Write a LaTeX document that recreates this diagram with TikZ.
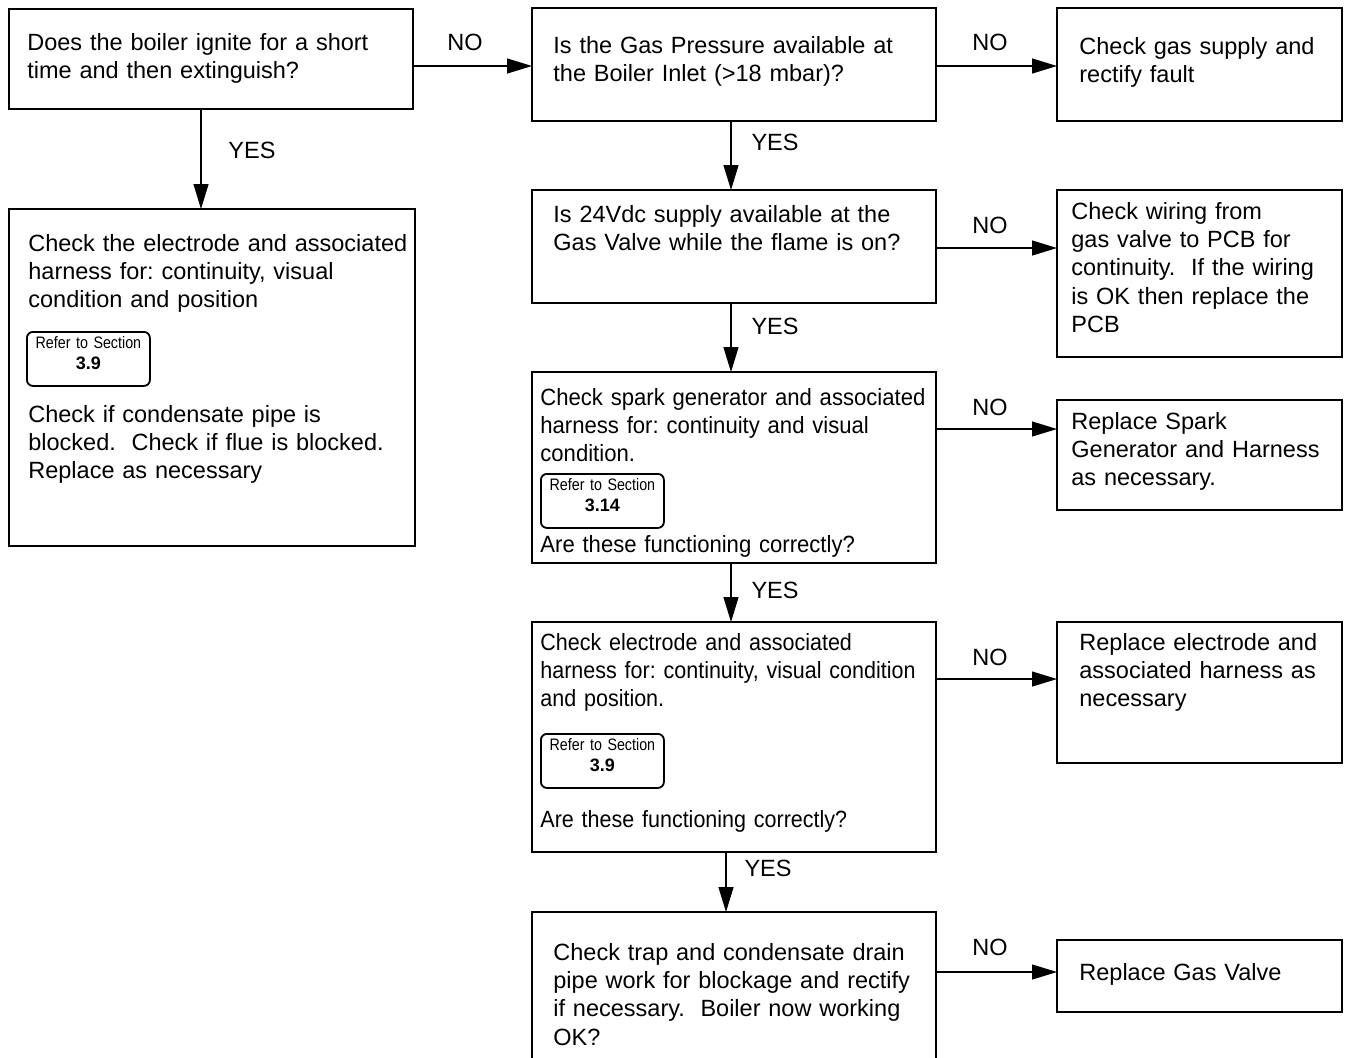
\documentclass[tikz,border=0pt]{standalone}
\usepackage{fontspec}
\setmainfont{Liberation Sans}
\newfontfamily\narrowfont[FakeStretch=0.86]{Liberation Sans}
\newfontfamily\sparkfont[FakeStretch=0.94]{Liberation Sans}
\newfontfamily\electfont[FakeStretch=0.915]{Liberation Sans}
\usetikzlibrary{arrows.meta, positioning}

\newcommand\refnum[1]{{\normalfont\bfseries\fontsize{9}{10.5}\selectfont #1}}

\begin{document}
\frenchspacing
\begin{tikzpicture}[
  x=0.5pt, y=-0.5pt,
  frame/.style={rectangle, draw, line width=0.6pt, inner sep=0pt, outer sep=0pt, anchor=north west},
  txt/.style={anchor=base west, inner sep=0pt, align=left, text width=#1, font=\fontsize{11.75}{14.2}\selectfont},
  txt/.default=215pt,
  sparktxt/.style={txt, font=\sparkfont\fontsize{11.75}{14.2}\selectfont},
  electtxt/.style={txt, font=\electfont\fontsize{11.75}{14.2}\selectfont},
  refer/.style={rectangle, draw, rounded corners=3pt, line width=0.9pt, inner sep=0pt, anchor=north west, text width=61.5pt, align=center, text height=8.5pt, text depth=18.5pt, font=\narrowfont\fontsize{8.3}{10.5}\selectfont},
  lbl/.style={anchor=base, inner sep=0pt, font=\fontsize{11.75}{14.2}\selectfont},
  arrow/.style={-{Triangle[length=12.5pt, width=7.5pt]}, line width=0.6pt}
]

\useasboundingbox (0,0) rectangle (1363,1057);
\clip (0,0) rectangle (1363,1057);

% Frames
\node[frame, minimum width=202pt, minimum height=50pt] (ignite) at (9,9) {};
\node[frame, minimum width=203pt, minimum height=168.5pt] (electrode) at (9,209) {};
\node[frame, minimum width=202pt, minimum height=56.5pt] (gaspress) at (532,8) {};
\node[frame, minimum width=142.5pt, minimum height=56.5pt] (gassupply) at (1057,8) {};
\node[frame, minimum width=202pt, minimum height=56.5pt] (supply) at (532,190) {};
\node[frame, minimum width=142.5pt, minimum height=83.5pt] (wiring) at (1057,190) {};
\node[frame, minimum width=202pt, minimum height=95.5pt] (spark) at (532,372) {};
\node[frame, minimum width=142.5pt, minimum height=55pt] (sparkrep) at (1057,400) {};
\node[frame, minimum width=202pt, minimum height=115pt] (electrode2) at (532,622) {};
\node[frame, minimum width=142.5pt, minimum height=70.5pt] (electrep) at (1057,622) {};
\node[frame, minimum width=202pt, minimum height=90pt] (trap) at (532,912) {};
\node[frame, minimum width=142.5pt, minimum height=36pt] (valverep) at (1057,940) {};

% Texts
\node[txt] (ignite-t) at (27,50) {Does the boiler ignite for a short\\time and then extinguish?};
\node[txt] (electrode-t) at (28,251) {Check the electrode and associated\\harness for: continuity, visual\\condition and position};
\node[refer] (electrode-r) at (26,331) {Refer to Section\\\refnum{3.9}};
\node[txt] (electrode-t2) at (28,422) {Check if condensate pipe is\\blocked.\ \ Check if flue is blocked.\\Replace as necessary};
\node[txt] (gaspress-t) at (553,53) {Is the Gas Pressure available at\\the Boiler Inlet (>18 mbar)?};
\node[txt=135pt] (gassupply-t) at (1079,54) {Check gas supply and\\rectify fault};
\node[txt] (supply-t) at (553,222) {Is 24Vdc supply available at the\\Gas Valve while the flame is on?};
\node[txt=135pt] (wiring-t) at (1071,219) {Check wiring from\\gas valve to PCB for\\continuity.\ \ If the wiring\\is OK then replace the\\PCB};
\node[sparktxt] (spark-t) at (540,405) {Check spark generator and associated\\harness for: continuity and visual\\condition.};
\node[refer] (spark-r) at (540,473) {Refer to Section\\\refnum{3.14}};
\node[sparktxt] (spark-t2) at (540,552) {Are these functioning correctly?};
\node[txt=135pt] (sparkrep-t) at (1071,429) {Replace Spark\\Generator and Harness\\as necessary.};
\node[electtxt] (electrode2-t) at (540,650) {Check electrode and associated\\harness for: continuity, visual condition\\and position.};
\node[refer] (electrode2-r) at (540,733) {Refer to Section\\\refnum{3.9}};
\node[electtxt] (electrode2-t2) at (540,827) {Are these functioning correctly?};
\node[txt=135pt] (electrep-t) at (1079,650) {Replace electrode and\\associated harness as\\necessary};
\node[txt] (trap-t) at (553,960) {Check trap and condensate drain\\pipe work for blockage and rectify\\if necessary.\ \ Boiler now working\\OK?};
\node[txt=135pt] (valverep-t) at (1079,980) {Replace Gas Valve};

% Labels
\node[lbl] (no-ignite) at (465,50) {NO};
\node[lbl] (yes-ignite) at (252,158) {YES};
\node[lbl] (no-gaspress) at (990,50) {NO};
\node[lbl] (yes-gaspress) at (775,150) {YES};
\node[lbl] (no-supply) at (990,233) {NO};
\node[lbl] (yes-supply) at (775,334) {YES};
\node[lbl] (no-spark) at (990,415) {NO};
\node[lbl] (yes-spark) at (775,598) {YES};
\node[lbl] (no-electrode2) at (990,665) {NO};
\node[lbl] (yes-electrode2) at (768,876) {YES};
\node[lbl] (no-trap) at (990,955) {NO};

% Arrows
\draw[arrow] (ignite.east |- 0,66) -- (gaspress.west |- 0,66);
\draw[arrow] (ignite.south -| 201,0) -- (electrode.north -| 201,0);
\draw[arrow] (gaspress.east |- 0,66) -- (gassupply.west |- 0,66);
\draw[arrow] (gaspress.south -| 731,0) -- (supply.north -| 731,0);
\draw[arrow] (supply.east |- 0,248) -- (wiring.west |- 0,248);
\draw[arrow] (supply.south -| 731,0) -- (spark.north -| 731,0);
\draw[arrow] (spark.east |- 0,429) -- (sparkrep.west |- 0,429);
\draw[arrow] (spark.south -| 731,0) -- (electrode2.north -| 731,0);
\draw[arrow] (electrode2.east |- 0,679) -- (electrep.west |- 0,679);
\draw[arrow] (electrode2.south -| 726,0) -- (trap.north -| 726,0);
\draw[arrow] (trap.east |- 0,972) -- (valverep.west |- 0,972);

\end{tikzpicture}
\end{document}
